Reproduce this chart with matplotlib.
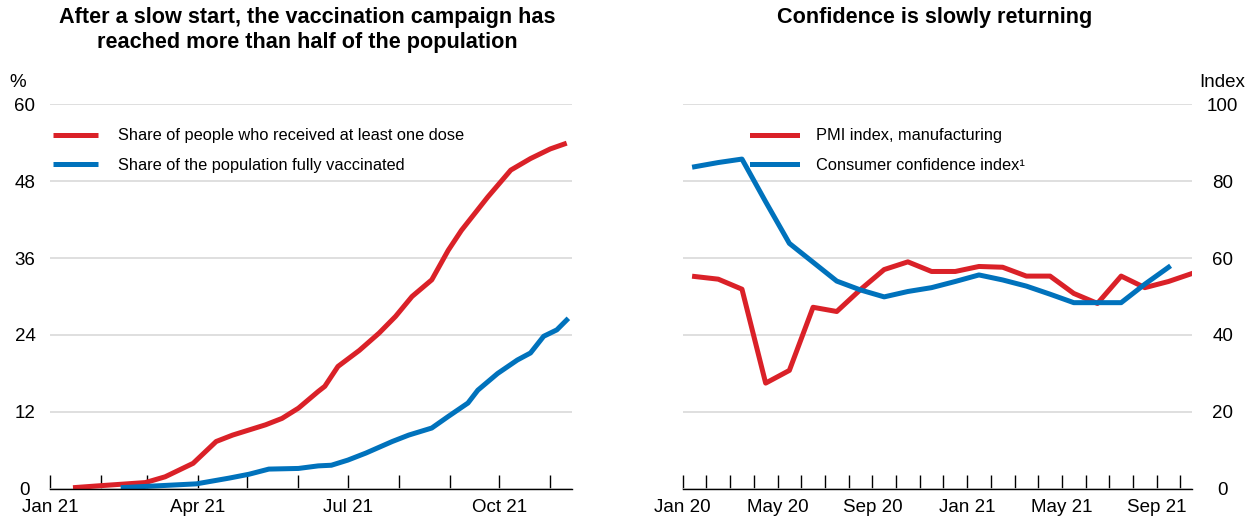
import datetime as dt

import matplotlib.pyplot as plt
import matplotlib.dates as mdates

plt.rcParams['font.family'] = ['Liberation Sans', 'DejaVu Sans']

RED = "#DA2128"
BLUE = "#0072BC"
GRID = "#D9D9D9"

# --- left panel: vaccination shares (%) ---
one_dose_dates = ["2021-01-15", "2021-01-31", "2021-02-28", "2021-03-12", "2021-03-29",
                  "2021-04-12", "2021-04-22", "2021-05-12", "2021-05-22", "2021-06-01",
                  "2021-06-13", "2021-06-17", "2021-06-25", "2021-07-08", "2021-07-20",
                  "2021-07-30", "2021-08-09", "2021-08-21", "2021-08-31", "2021-09-08",
                  "2021-09-16", "2021-09-24", "2021-10-08", "2021-10-20", "2021-11-01",
                  "2021-11-11"]
one_dose = [0.2, 0.5, 1.0, 1.9, 4.0, 7.4, 8.4, 10.0, 11.0, 12.6, 15.2, 16.0, 19.1,
            21.6, 24.3, 26.9, 30.0, 32.6, 37.2, 40.3, 42.9, 45.5, 49.7, 51.5, 53.0, 53.9]

fully_dates = ["2021-02-13", "2021-03-31", "2021-04-20", "2021-05-02", "2021-05-14",
               "2021-06-01", "2021-06-13", "2021-06-21", "2021-07-01", "2021-07-12",
               "2021-07-28", "2021-08-07", "2021-08-21", "2021-08-31", "2021-09-12",
               "2021-09-18", "2021-09-30", "2021-10-12", "2021-10-20", "2021-10-28",
               "2021-11-05", "2021-11-12"]
fully = [0.2, 0.8, 1.7, 2.3, 3.1, 3.2, 3.6, 3.7, 4.5, 5.6, 7.4, 8.4, 9.5, 11.3, 13.4,
         15.4, 18.0, 20.1, 21.2, 23.8, 24.8, 26.6]

# --- right panel: monthly indices Jan 2020 - Oct 2021 ---
months = ["Jan 20", "Feb 20", "Mar 20", "Apr 20", "May 20", "Jun 20", "Jul 20", "Aug 20",
          "Sep 20", "Oct 20", "Nov 20", "Dec 20", "Jan 21", "Feb 21", "Mar 21", "Apr 21",
          "May 21", "Jun 21", "Jul 21", "Aug 21", "Sep 21", "Oct 21"]
pmi = [55.2, 54.5, 51.9, 27.5, 30.8, 47.2, 46.1, 51.8, 57.0, 59.0, 56.5, 56.5, 57.8,
       57.6, 55.3, 55.3, 50.8, 48.2, 55.3, 52.3, 53.9, 56.0]
confidence = [83.7, 84.8, 85.7, 74.6, 63.8, 58.9, 54.0, 51.7, 49.9, 51.3, 52.3, 53.9,
              55.6, 54.3, 52.7, 50.6, 48.4, 48.4, 48.4, 53.2, 57.6]

fig = plt.figure(figsize=(12.55, 5.17), dpi=100)
ax1 = fig.add_axes([0.0398, 0.0542, 0.4157, 0.7446])
ax2 = fig.add_axes([0.544, 0.0542, 0.406, 0.7446])


def style(ax):
    for s in ("top", "left", "right"):
        ax.spines[s].set_visible(False)
    ax.spines["bottom"].set_linewidth(1.0)
    ax.yaxis.grid(True, color=GRID, lw=1.2)
    ax.set_axisbelow(True)
    ax.tick_params(axis="x", which="both", direction="in", length=10, width=1,
                   labelsize=13.5, pad=7)
    ax.tick_params(axis="y", length=0, labelsize=13.5)


# left
d1 = [dt.datetime.fromisoformat(s) for s in one_dose_dates]
d2 = [dt.datetime.fromisoformat(s) for s in fully_dates]
ax1.plot(d1, one_dose, color=RED, lw=3.6, solid_capstyle="butt",
         label="Share of people who received at least one dose")
ax1.plot(d2, fully, color=BLUE, lw=3.6, solid_capstyle="butt",
         label="Share of the population fully vaccinated")
ax1.set_xlim(dt.datetime(2021, 1, 1), dt.datetime(2021, 11, 14))
ax1.set_ylim(0, 60)
ax1.set_yticks(range(0, 61, 12))
ax1.xaxis.set_major_locator(mdates.MonthLocator(bymonth=[1, 4, 7, 10]))
ax1.xaxis.set_minor_locator(mdates.MonthLocator())
ax1.xaxis.set_major_formatter(mdates.DateFormatter("%b %y"))
style(ax1)
ax1.tick_params(axis="y", pad=18)
for t in ax1.yaxis.get_major_ticks():
    t.label1.set_ha("center")
ax1.text(-0.062, 1.045, "%", transform=ax1.transAxes, fontsize=13.5, ha="center")

# right
x = list(range(len(months)))
ax2.plot(x, pmi, color=RED, lw=3.6, label="PMI index, manufacturing")
ax2.plot(x[:len(confidence)], confidence, color=BLUE, lw=3.6,
         label="Consumer confidence index\u00b9")
ax2.set_xlim(-0.5, len(months) - 1)
ax2.set_ylim(0, 100)
ax2.set_yticks(range(0, 101, 20))
ax2.yaxis.tick_right()
ax2.set_xticks([i - 0.5 for i in range(len(months))], minor=True)
ax2.set_xticks([i - 0.5 for i in range(0, len(months), 4)])
ax2.set_xticklabels(months[::4])
style(ax2)
ax2.tick_params(axis="y", pad=22)
for t in ax2.yaxis.get_major_ticks():
    t.label2.set_ha("center")
ax2.text(1.058, 1.045, "Index", transform=ax2.transAxes, fontsize=13.5, ha="center")

for ax, anchor in ((ax1, (0.006, 0.937)), (ax2, (0.135, 0.937))):
    ax.legend(loc="upper left", bbox_to_anchor=anchor, frameon=False, fontsize=11.8,
              borderaxespad=0, borderpad=0, handlelength=2.75, handletextpad=1.2,
              labelspacing=0.9)

fig.text(0.245, 0.942, "After a slow start, the vaccination campaign has\n"
         "reached more than half of the population", ha="center", va="center",
         fontsize=15.6, fontweight="bold", linespacing=1.2)
fig.text(0.745, 0.967, "Confidence is slowly returning", ha="center", va="center",
         fontsize=15.6, fontweight="bold")

fig.savefig("out.png", dpi=100)
